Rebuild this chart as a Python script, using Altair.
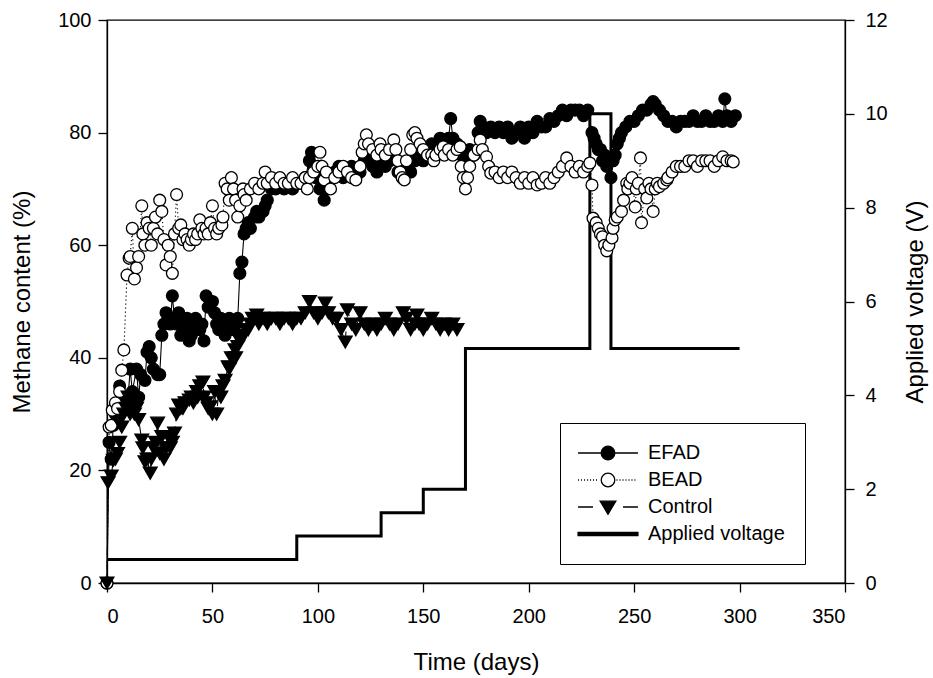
import altair as alt
import pandas as pd

# Methane content (%) of the three reactors, as (day, value) pairs
efad_points = [
    (0, 0), (1, 25), (2, 22), (3, 28), (4, 30), (5, 29), (6, 35), (7, 33), (8, 31), (10, 33),
    (11, 38), (12, 34), (14, 38), (15, 33), (16, 37), (18, 36), (19, 41), (20, 42), (21, 40),
    (22, 38), (24, 37), (25, 37), (26, 44), (27, 46), (28, 48), (29, 47), (30, 46), (31, 51),
    (32, 47), (33, 46), (34, 48), (35, 44), (36, 45), (38, 47), (39, 43), (40, 44), (41, 46),
    (42, 47), (44, 45), (45, 46), (46, 43), (47, 51), (48, 49), (49, 50), (50, 50), (51, 48),
    (52, 46), (53, 45), (54, 47), (56, 44), (57, 46), (58, 47), (60, 45), (61, 46), (62, 47),
    (63, 55), (64, 57), (65, 62), (66, 63), (67, 64), (68, 63), (70, 65), (71, 66), (72, 65),
    (74, 66), (75, 67), (76, 68), (78, 70), (80, 70), (82, 71), (84, 70), (86, 71), (88, 70),
    (90, 71), (92, 71), (94, 72), (96, 75), (97, 76.5), (98, 74), (99, 72), (100, 73),
    (101, 70), (103, 68), (104, 70), (106, 72), (108, 73), (110, 74), (112, 72), (114, 73),
    (116, 74), (118, 72), (120, 73), (122, 75), (124, 76), (126, 74), (128, 73), (130, 75),
    (132, 74), (134, 75), (136, 76), (138, 73), (140, 72), (142, 74), (144, 73), (146, 75),
    (148, 76), (150, 75), (152, 77), (154, 78), (156, 77), (158, 79), (160, 78), (162, 79),
    (163, 82.5), (164, 79), (166, 78), (168, 76), (170, 75), (172, 77), (174, 76), (176, 80),
    (177, 82), (178, 81), (180, 80), (182, 81), (184, 80), (186, 81), (188, 80), (190, 81),
    (192, 79), (194, 80), (196, 81), (198, 79), (200, 81), (202, 80), (204, 82), (206, 81),
    (208, 81), (210, 82.5), (212, 82), (214, 83), (216, 84), (218, 83), (220, 84), (222, 84),
    (224, 84), (226, 83), (228, 84), (230, 80), (231, 79), (232, 78), (233, 77), (234, 77),
    (235, 75), (236, 76), (237, 74), (238, 75), (239, 72), (240, 75), (241, 76), (242, 78),
    (243, 79), (244, 80), (246, 81), (248, 82), (250, 82), (252, 83), (254, 84), (256, 84),
    (258, 85), (259, 85.5), (260, 85), (262, 84), (264, 83), (266, 82), (268, 82), (270, 81),
    (272, 82), (274, 82), (276, 82), (278, 83), (280, 82), (282, 82), (284, 83), (286, 82),
    (288, 82), (290, 83), (292, 82), (293, 86), (294, 83), (296, 82), (298, 83),
]

bead_points = [
    (0, 0), (1, 27.7), (2, 28), (2.5, 30.7), (4, 32), (5, 31), (6, 34), (7, 37.8), (8, 41.4),
    (9.5, 54.7), (10.5, 57.7), (11, 58), (12, 63), (13, 54), (14, 56), (15, 58), (16.5, 67),
    (17, 62), (18, 60), (19, 64), (20, 63), (21, 60), (22, 63), (23, 65), (24, 62), (25, 68),
    (26, 66), (27, 61), (28, 56.5), (29, 60), (30, 58), (31, 55), (32, 62), (33, 69), (34, 63),
    (35, 63.6), (36, 61), (37, 62), (38, 61), (39, 60), (40, 61), (41, 62), (42, 61), (43, 62),
    (44, 64.5), (45, 63), (46, 62), (47, 63), (48, 62), (49, 64), (50, 67), (51, 63), (52, 62),
    (53, 63), (54.5, 63.6), (55, 65), (56, 71), (57, 70), (58, 68), (59, 72), (60, 70), (61, 68),
    (62, 65), (63, 67), (64.5, 70), (65, 69), (66, 68), (68, 70), (70, 71), (72, 70), (74, 71),
    (75, 73), (76, 71), (78, 72), (80, 71), (82, 72), (84, 71), (86, 71), (88, 72), (90, 71),
    (92, 71), (94, 72), (95, 70), (96, 72), (98, 73), (100, 74), (101, 76.5), (102, 74),
    (103, 71.6), (104, 73), (106, 70), (108, 72), (110, 73), (112, 74), (114, 73), (116, 72),
    (118, 71.6), (120, 74), (121, 76.5), (122, 78), (123, 79.6), (124, 78), (126, 77), (128, 76),
    (129.5, 78), (130, 77), (132, 76), (134, 77), (136, 78.7), (137, 77), (138, 75), (139, 73),
    (140, 72), (141, 71.6), (142, 75), (144, 77), (145, 79.6), (146, 80), (147, 79), (148.5, 78),
    (150, 77), (152, 76), (154, 76), (155, 75), (156, 76), (158, 77), (159.5, 77.5), (160, 76),
    (162, 77), (164, 76), (166, 77), (167.5, 77.5), (168, 74), (169, 72), (170, 70), (171, 72),
    (172, 74), (174, 76), (176, 77), (177, 78.7), (178, 77), (180, 75.7), (181, 74), (182, 72.8),
    (184, 73), (186, 72), (188, 73), (190, 72), (192, 73), (194, 72), (196, 71), (198, 72),
    (200, 71), (202, 72), (204, 70.7), (206, 71), (208, 72), (210, 71), (212, 72), (214, 73),
    (216, 74), (218, 75.5), (220, 74), (222, 73), (224, 74), (226, 73), (228, 74), (229, 74.6),
    (230, 70.7), (230.5, 64.8), (232, 64), (233, 63), (234, 62), (235, 61.5), (236, 60),
    (237, 59), (238, 60), (239.5, 61.3), (240, 63), (241, 64.5), (242, 65), (244, 66), (245, 68),
    (246.5, 71), (247, 70), (248, 71), (249, 72), (250.5, 66.8), (251, 70), (252, 71),
    (253, 75.5), (253.5, 64), (255, 70), (256, 68.4), (257, 71), (258, 70), (259, 66), (260, 70),
    (261, 71), (262, 70.4), (264, 71), (265.5, 71.6), (266, 72), (268, 73), (270, 74), (272, 74),
    (274, 74), (276, 75), (278, 75), (280, 74), (282, 75), (284, 75), (286, 75), (288, 74),
    (290, 75), (292, 75.7), (294, 75), (296, 75), (297, 74.8),
]

control_points = [
    (0, 0), (0.5, 17.8), (2, 19), (3, 21.8), (4, 22), (5, 23), (6, 25), (7, 27.7), (8, 30),
    (9, 31), (10, 33), (11, 30), (12, 32), (13, 30), (14, 31), (15, 29), (16.5, 25.4), (17, 24),
    (18, 21.5), (19, 22), (20.5, 19.5), (21, 22), (22, 24), (23, 25), (24, 28.4), (25, 23),
    (26, 26), (27, 22), (28, 24), (29, 26), (30, 24), (31, 25), (32, 26.6), (33, 30), (34, 31.6),
    (35, 31), (36, 31), (37, 32), (39, 32.5), (40, 33), (41, 32), (42.5, 34), (43, 33), (44, 35),
    (45.5, 35.7), (46, 33), (47, 32), (48, 31), (49, 31.3), (50, 30), (51, 34), (52, 30),
    (53, 34), (54, 33), (55, 35), (56, 36), (57.5, 38.4), (58, 38), (59, 40), (60.7, 41.4),
    (61, 40), (62, 42), (63, 43), (64, 44), (65, 44), (66, 45), (67, 45), (68, 46), (69, 47),
    (71, 47.6), (72, 46), (74, 47), (76, 46), (78, 47), (80, 47), (82, 46), (84, 47), (86, 47),
    (88, 46), (90, 47), (92, 47), (94, 48), (96, 50), (98, 48), (100, 47), (102, 48),
    (103.5, 49.7), (105, 48), (107, 47), (109, 47), (111, 45), (113, 42.8), (114, 48.5),
    (116, 46), (118, 45), (120, 48), (122, 46), (124, 45), (126, 46), (128, 45), (130, 46),
    (132, 47), (134, 46), (136, 45), (138, 46), (140.5, 48), (142, 47), (144, 45), (146, 46),
    (147, 47.6), (148, 46), (150, 45), (152, 46), (154, 47), (156, 46), (158, 45), (160, 46),
    (162, 45), (164, 46), (166, 45),
]

# Applied voltage (V) schedule; each value holds until the next day listed
voltage_days = [0, 90, 130, 150, 170, 229, 239, 300]
voltage_values = [0.5, 1, 1.5, 2, 5, 10, 5, 5]

series_names = ["EFAD", "BEAD", "Control", "Applied voltage"]

FONT = "Liberation Sans"


def frame(points, name):
    return pd.DataFrame({"day": [p[0] for p in points],
                         "ch4": [p[1] for p in points],
                         "series": name})


efad = frame(efad_points, "EFAD")
bead = frame(bead_points, "BEAD")
control = frame(control_points, "Control")
voltage = pd.DataFrame({"day": voltage_days, "volt": voltage_values})
legend_rows = pd.DataFrame({"series": series_names, "day": [None] * 4, "ch4": [None] * 4})

x_enc = alt.X("day:Q", scale=alt.Scale(domain=[0, 350], nice=False),
              axis=alt.Axis(values=list(range(0, 351, 50)), title="Time (days)",
                            tickSize=9, labelPadding=14, titleX=369, titleY=79,
                            titleBaseline="middle", titleAlign="center"))
y_left = alt.Y("ch4:Q", scale=alt.Scale(domain=[0, 100], nice=False),
               axis=alt.Axis(values=list(range(0, 101, 20)), title="Methane content (%)",
                             tickSize=9, labelPadding=7, titleX=-85, titleY=281.5,
                             titleAngle=270, titleBaseline="middle", titleAlign="center"))

MSIZE = 140


def series_layers(df, dash, shape, fill):
    line = alt.Chart(df).mark_line(color="black", strokeWidth=1.1, strokeDash=dash).encode(
        x=x_enc, y=y_left)
    pts = alt.Chart(df).mark_point(shape=shape, fill=fill, stroke="black", strokeWidth=1.3,
                                   filled=True, opacity=1,
                                   size=MSIZE if shape == "circle" else 190).encode(
        x=x_enc, y=y_left)
    return [line, pts]


# Legend symbols drawn as unit paths: a line segment through each marker
def dotted(a, b, step=0.44, dot=0.15):
    segs = []
    v = a
    while v + dot <= b + 1e-9:
        segs.append(f"M{v:.2f},0L{v + dot:.2f},0")
        v += step
    return "".join(segs)


circle_path = "M1,0A1,1,0,1,1,-1,0A1,1,0,1,1,1,0Z"
sym_efad = "M-4.4,0L4.4,0" + circle_path
sym_bead = dotted(-4.4, -1.2) + dotted(1.25, 4.4) + circle_path
sym_control = "M-4.4,0L-2.2,0M2.2,0L4.4,0M-1.15,-0.85L1.15,-0.85L0,1.05Z"
sym_volt = "M-4.4,-0.22L4.4,-0.22L4.4,0.22L-4.4,0.22Z"

legend_layer = alt.Chart(legend_rows).mark_point(filled=True, opacity=1,
                                                 strokeWidth=1.3).encode(
    x=x_enc, y=y_left,
    shape=alt.Shape("series:N",
                    scale=alt.Scale(domain=series_names,
                                    range=[sym_efad, sym_bead, sym_control, sym_volt]),
                    legend=alt.Legend(title=None, orient="none", legendX=453, legendY=403,
                                      strokeColor="black", fillColor="white", padding=20,
                                      rowPadding=7, labelFontSize=20, labelFont=FONT,
                                      labelColor="black", labelOffset=30, symbolOffset=18,
                                      symbolSize=185, symbolStrokeWidth=1.3,
                                      cornerRadius=0)),
    fill=alt.Fill("series:N",
                  scale=alt.Scale(domain=series_names,
                                  range=["black", "white", "black", "black"]),
                  legend=alt.Legend(title=None)),
    stroke=alt.Stroke("series:N",
                      scale=alt.Scale(domain=series_names,
                                      range=["black", "black", "black", "black"]),
                      legend=alt.Legend(title=None)),
)

methane = alt.layer(
    *series_layers(efad, [1, 0], "circle", "black"),
    *series_layers(bead, [1.2, 2.8], "circle", "white"),
    *series_layers(control, [9, 5], "triangle-down", "black"),
    legend_layer,
)

volt_line = alt.Chart(voltage).mark_line(color="black", strokeWidth=3,
                                         interpolate="step-after").encode(
    x=x_enc,
    y=alt.Y("volt:Q", scale=alt.Scale(domain=[0, 12], nice=False),
            axis=alt.Axis(orient="right", values=list(range(0, 13, 2)),
                          title="Applied voltage (V)", tickSize=9, labelPadding=11,
                          titleX=70, titleY=281.5, titleAngle=270,
                          titleBaseline="middle", titleAlign="center")),
)

chart = alt.layer(volt_line, methane).resolve_scale(y="independent").properties(
    width=738, height=563,
    background="white",
    autosize=alt.AutoSizeParams(type="none"),
    padding={"left": 107, "top": 20, "right": 88, "bottom": 95},
).configure_view(stroke="black", strokeWidth=1.3).configure_axis(
    grid=False, domainColor="black", domainWidth=1.3, tickColor="black", tickWidth=1.3,
    labelColor="black", titleColor="black", labelFont=FONT, titleFont=FONT,
    labelFontSize=20, titleFontSize=24, titleFontWeight="normal",
)

chart.save("out.html", embed_options={"renderer": "svg", "actions": False})
